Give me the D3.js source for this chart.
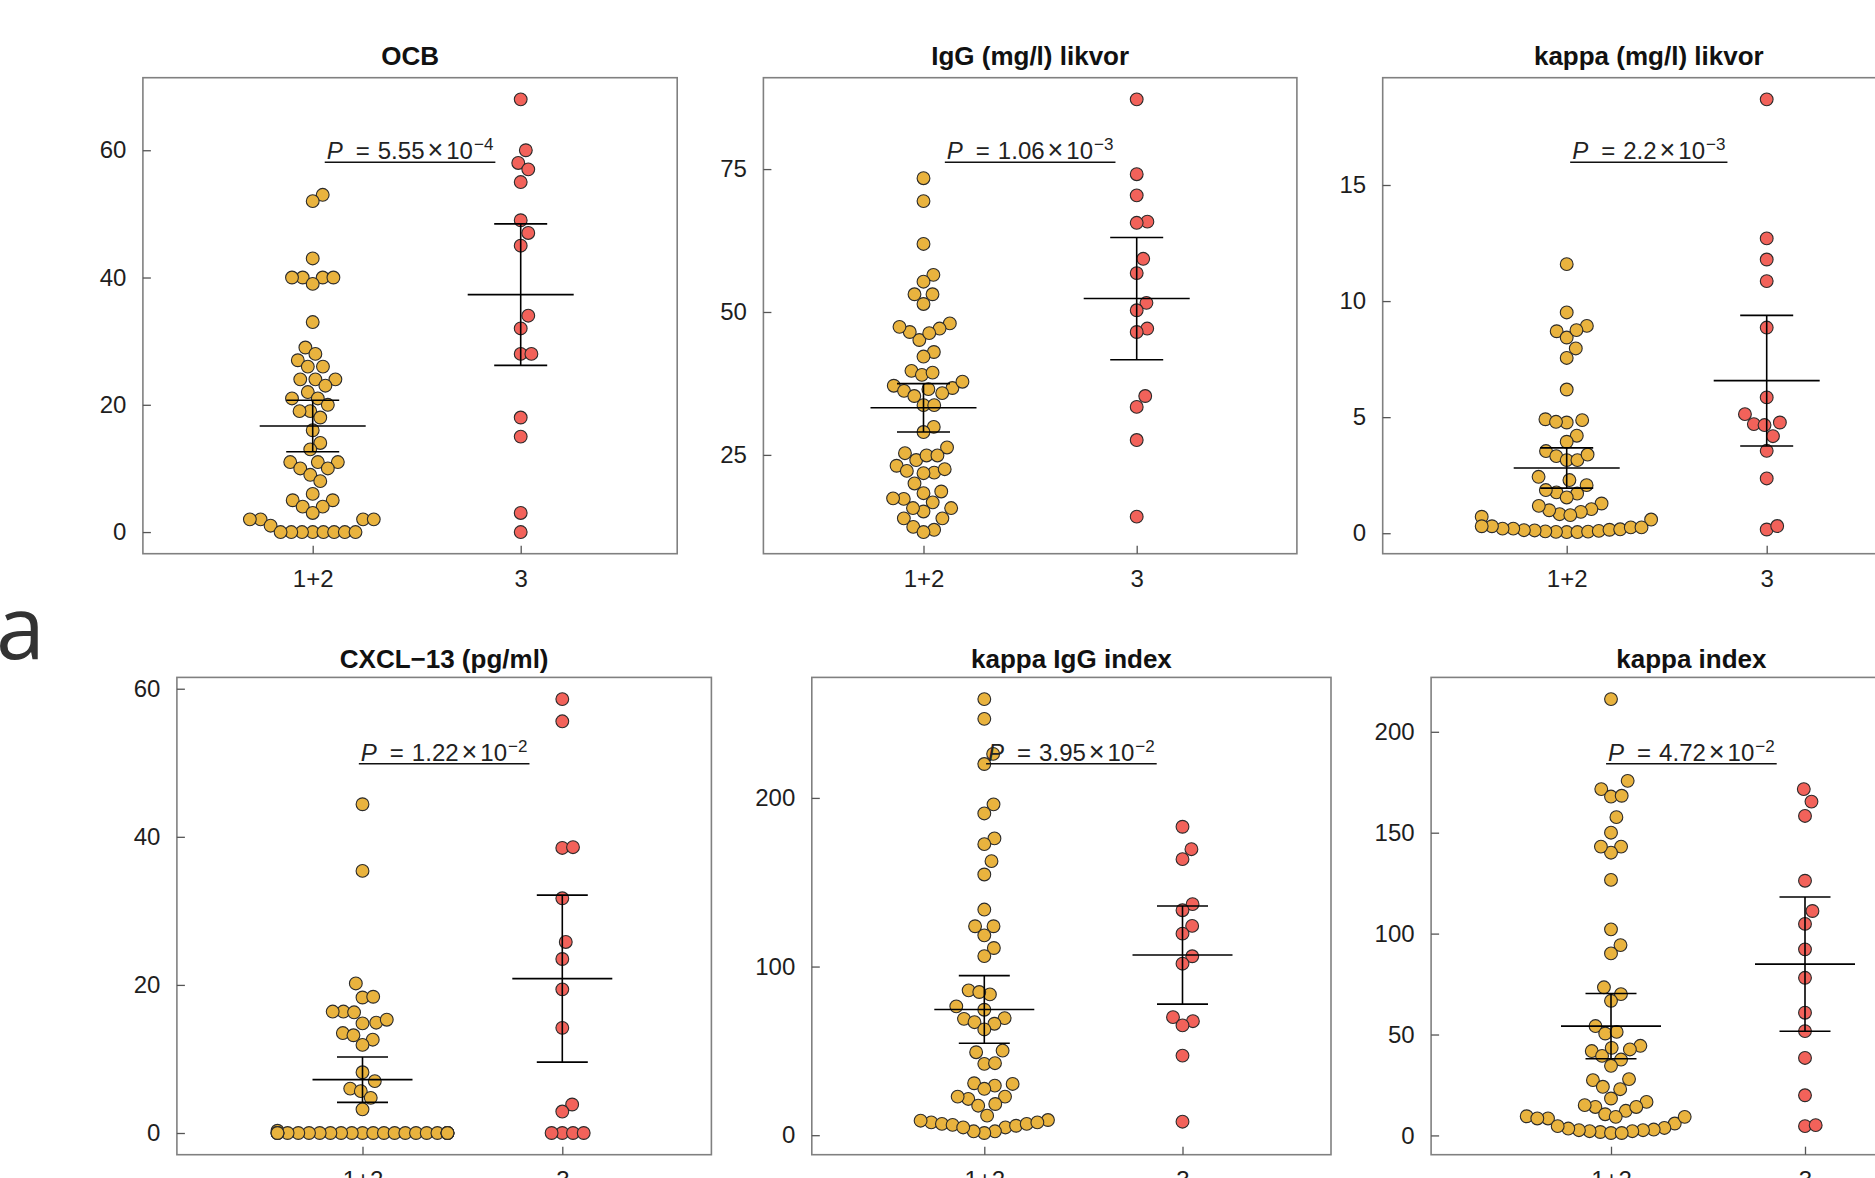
<!DOCTYPE html>
<html>
<head>
<meta charset="utf-8">
<script src="https://cdn.jsdelivr.net/npm/d3@7"></script>
<style>
  html, body { margin: 0; padding: 0; background: #ffffff; }
  svg { display: block; }
</style>
</head>
<body>
<script>
// ---------------- DATA ----------------
const groups = ["1+2", "3"];
const panelTitles = ["OCB", "IgG (mg/l) likvor", "kappa (mg/l) likvor",
                     "CXCL\u221213 (pg/ml)", "kappa IgG index", "kappa index"];
const pMantissa = ["5.55", "1.06", "2.2", "1.22", "3.95", "4.72"];
const pExponent = ["\u22124", "\u22123", "\u22123", "\u22122", "\u22122", "\u22122"];
const yTicks = [[0, 20, 40, 60], [25, 50, 75], [0, 5, 10, 15],
                [0, 20, 40, 60], [0, 100, 200], [0, 50, 100, 150, 200]];

const ocbLow = [53,52,43,40,40,40,40,39,33,29,28,27,26,26,24,24,24,23,22,21,21,20,19,19,18,16,14,13,
                11,11,11,10,10,9,8,6,5,5,4,4,3,2,2,2,2,1,0,0,0,0,0,0,0,0];
const ocbHigh = [68,60,58,57,55,49,47,45,34,32,28,28,18,15,3,0];

const iggLow = [73.4,69.4,61.9,56.5,55.3,53.1,53.1,51.4,48.0,47.1,45.1,46.3,46.5,47.4,43.0,42.2,
                39.7,39.0,39.4,37.1,36.2,35.3,36.7,35.8,36.5,37.8,33.7,33.7,29.9,29.0,26.3,24.1,
                25.3,24.9,24.9,23.1,22.2,21.9,21.8,22.5,20.0,18.3,16.7,17.3,18.6,17.4,15.1,15.7,
                15.7,13.9,13.9,12.4,11.9,11.5];
const iggHigh = [87.2,74.1,70.4,65.8,65.6,59.3,56.8,51.6,50.3,47.1,46.5,35.3,33.4,27.6,14.2];

const kappaLow = [11.59,9.51,8.93,8.70,8.43,8.75,7.96,7.55,6.19,4.91,4.77,4.80,4.87,4.20,3.94,
                  3.54,3.32,3.15,3.15,3.39,2.43,2.07,1.76,1.86,2.29,1.71,1.28,1.04,0.92,0.82,
                  0.99,1.18,1.54,0.59,0.78,0.71,0.05,0.05,0.06,0.07,0.08,0.10,0.12,0.13,0.15,
                  0.17,0.20,0.20,0.25,0.25,0.30,0.30];
const kappaHigh = [18.69,12.70,11.79,10.86,8.86,5.85,5.13,4.70,4.66,4.77,4.18,3.55,2.36,0.16,0.31];

const cxclLow = [44.4,35.4,20.2,18.3,18.4,16.4,16.4,16.3,14.8,14.9,15.3,13.5,13.2,12.6,11.9,
                 8.2,7.0,6.0,5.65,4.75,3.2,0.3,
                 0,0,0,0,0,0,0,0,0,0,0,0,0,0,0,0,0,0,0,0,0,0];
const cxclHigh = [58.6,55.6,38.5,38.6,31.7,25.8,23.5,19.4,14.2,3.85,2.9,0,0,0,0];

const kigLow = [258.6,246.9,226.1,220.1,196.2,190.8,176.0,172.6,162.5,154.6,133.8,123.9,123.9,
                118.5,111.0,106.2,85.9,83.5,84.9,76.4,74.4,69.0,67.0,69.4,66.1,62.7,49.2,50.2,
                42.3,42.7,29.4,30.4,30.8,27.5,22.9,21.5,17.5,18.5,22.9,11.6,9.0,7.6,6.7,6.1,
                4.6,2.3,1.3,2.3,4.6,5.6,6.7,7.6,8.6];
const kigHigh = [182.9,169.6,163.7,137.0,133.4,124.1,119.5,106.1,101.7,70.0,67.6,65.1,47.2,8.0];

const kidxLow = [216.2,175.7,171.6,167.9,168.3,157.7,150.0,143.1,140.1,143.1,126.6,102.1,94.3,
                 90.2,73.4,70.0,66.7,54.2,50.5,51.3,44.4,41.8,39.4,37.6,42.6,43.4,34.5,27.4,
                 27.9,24.1,22.9,16.6,14.1,12.2,10.5,14.1,15.0,18.3,9.5,8.4,5.9,3.7,2.9,2.6,
                 2.1,1.7,1.2,1.2,2.1,2.6,3.4,4.6,8.4,9.2,9.2];
const kidxHigh = [171.6,165.4,158.3,126.2,111.2,104.8,92.2,78.1,60.8,51.7,38.4,19.9,4.6,5.1];

const panelSeries = [[ocbLow, ocbHigh], [iggLow, iggHigh], [kappaLow, kappaHigh],
                     [cxclLow, cxclHigh], [kigLow, kigHigh], [kidxLow, kidxHigh]];

// ---------------- LAYOUT ----------------
const W = 1875, H = 1178;
const layout = [
  {L: 142.9,  R: 677.2,  T: 77.7,  B: 553.7,  cx: [312.7, 520.7],  titleY: 65,    pY: 159, cap: [53, 26.5]},
  {L: 763.4,  R: 1296.9, T: 77.7,  B: 553.7,  cx: [923.5, 1136.7], titleY: 65,    pY: 159, cap: [53, 26.5]},
  {L: 1382.7, R: 1914.9, T: 77.7,  B: 553.7,  cx: [1566.7, 1766.7],titleY: 65,    pY: 159, cap: [53, 26.5]},
  {L: 176.9,  R: 711.4,  T: 677.4, B: 1154.7, cx: [362.5, 562.3],  titleY: 667.5, pY: 760.5, cap: [50, 25.5]},
  {L: 811.8,  R: 1331.0, T: 677.4, B: 1154.7, cx: [984.3, 1182.5], titleY: 667.5, pY: 760.5, cap: [50, 25.5]},
  {L: 1431.1, R: 1951.7, T: 677.4, B: 1154.7, cx: [1611, 1805],    titleY: 667.5, pY: 760.5, cap: [50, 25.5]}
];
const colors = ["#E9B33E", "#F2625A"];
const FONT = "'Liberation Sans', Arial, Helvetica, sans-serif";
const XS = 10.7, YS = 18, CORRAL = 85, R_PT = 6.4;

// t quantile (0.975) via Cornish-Fisher expansion
function t975(df) {
  const z = 1.959964, z3 = z*z*z, z5 = z3*z*z, z7 = z5*z*z;
  return z + (z3 + z) / (4*df) + (5*z5 + 16*z3 + 3*z) / (96*df*df)
           + (3*z7 + 19*z5 + 17*z3 - 15*z) / (384*df*df*df);
}

// beeswarm "swarm" layout, ascending priority, gutter corral
function swarm(py, vals) {
  const n = py.length;
  const order = d3.range(n).sort((a, b) => (vals[a] - vals[b]) || (a - b));
  const placed = [];
  const off = new Array(n);
  for (const i of order) {
    const y = py[i];
    const nb = placed.filter(p => Math.abs(p.y - y) < YS);
    const cand = [0];
    for (const p of nb) {
      const w = XS * Math.sqrt(Math.max(0, 1 - Math.pow((p.y - y) / YS, 2)));
      cand.push(p.x + w, p.x - w);
    }
    let best = null;
    for (const c of cand) {
      const ok = nb.every(p => Math.pow((c - p.x) / XS, 2) + Math.pow((y - p.y) / YS, 2) >= 1 - 1e-6);
      if (ok && (best === null || Math.abs(c) < Math.abs(best) - 1e-9)) best = c;
    }
    placed.push({x: best, y});
    off[i] = best;
  }
  return off.map(o => Math.max(-CORRAL, Math.min(CORRAL, o)));
}

const svg = d3.select("body").append("svg")
  .attr("width", W).attr("height", H)
  .attr("viewBox", `0 0 ${W} ${H}`);

svg.append("rect").attr("width", W).attr("height", H).attr("fill", "#fff");

panelSeries.forEach((series, i) => {
  const lay = layout[i];
  const all = series.flat();
  const [mn, mx] = d3.extent(all);
  const pad = (mx - mn) * 0.05;
  const y = d3.scaleLinear().domain([mn - pad, mx + pad]).range([lay.B, lay.T]);
  const x = d3.scaleLinear().domain([0, 1]).range(lay.cx);
  const g = svg.append("g");

  // points
  series.forEach((vals, gi) => {
    const py = vals.map(v => y(v));
    const off = swarm(py, vals);
    g.append("g").selectAll("circle").data(vals).join("circle")
      .attr("cx", (d, k) => x(gi) + off[k])
      .attr("cy", (d, k) => py[k])
      .attr("r", R_PT)
      .attr("fill", colors[gi])
      .attr("stroke", "#2b2b2b")
      .attr("stroke-width", 1.1);
  });

  // mean and 95% CI
  series.forEach((vals, gi) => {
    const n = vals.length;
    const m = d3.mean(vals);
    const se = d3.deviation(vals) / Math.sqrt(n);
    const h = t975(n - 1) * se;
    const cxp = x(gi);
    const eg = g.append("g").attr("stroke", "#000").attr("stroke-width", 1.6);
    eg.append("line").attr("x1", cxp).attr("x2", cxp).attr("y1", y(m + h)).attr("y2", y(m - h));
    eg.append("line").attr("x1", cxp - lay.cap[0]).attr("x2", cxp + lay.cap[0]).attr("y1", y(m)).attr("y2", y(m));
    [m + h, m - h].forEach(v => {
      eg.append("line").attr("x1", cxp - lay.cap[1]).attr("x2", cxp + lay.cap[1]).attr("y1", y(v)).attr("y2", y(v));
    });
  });

  // box
  g.append("rect")
    .attr("x", lay.L).attr("y", lay.T)
    .attr("width", lay.R - lay.L).attr("height", lay.B - lay.T)
    .attr("fill", "none").attr("stroke", "#808080").attr("stroke-width", 1.6);

  // y axis
  const ya = g.append("g").attr("transform", `translate(${lay.L},0)`)
    .call(d3.axisLeft(y).tickValues(yTicks[i]).tickSizeInner(-8).tickSizeOuter(0).tickPadding(16.5));
  ya.select(".domain").remove();
  ya.selectAll(".tick line").attr("stroke", "#555").attr("stroke-width", 1.3);
  ya.selectAll(".tick text").attr("fill", "#1e1e1e").style("font-family", FONT).style("font-size", "24px");

  // x axis
  const xa = g.append("g").attr("transform", `translate(0,${lay.B})`)
    .call(d3.axisBottom(x).tickValues([0, 1]).tickFormat(k => groups[k])
      .tickSizeInner(-8).tickSizeOuter(0).tickPadding(16));
  xa.select(".domain").remove();
  xa.selectAll(".tick line").attr("stroke", "#555").attr("stroke-width", 1.3);
  xa.selectAll(".tick text").attr("fill", "#1e1e1e").style("font-family", FONT).style("font-size", "24px");

  // title
  const midX = (lay.L + lay.R) / 2;
  g.append("text")
    .attr("x", midX).attr("y", lay.titleY)
    .attr("text-anchor", "middle")
    .style("font-family", FONT).style("font-size", "26px").style("font-weight", "bold")
    .attr("fill", "#111")
    .text(panelTitles[i]);

  // P value label
  const pt = g.append("text")
    .attr("x", midX).attr("y", lay.pY)
    .attr("text-anchor", "middle")
    .style("font-family", FONT).style("font-size", "24px")
    .attr("fill", "#222");
  pt.append("tspan").style("font-style", "italic").text("P");
  pt.append("tspan").attr("dx", 13).text("=");
  pt.append("tspan").attr("dx", 8).text(pMantissa[i]);
  pt.append("tspan").attr("dx", 3).style("font-size", "27px").text("\u00D7");
  pt.append("tspan").attr("dx", 3).text("10");
  pt.append("tspan").attr("dx", 1).attr("dy", -9).style("font-size", "17px").text(pExponent[i]);
  const bb = pt.node().getBBox();
  g.append("line")
    .attr("x1", bb.x - 2).attr("x2", bb.x + bb.width + 2)
    .attr("y1", lay.pY + 3.3).attr("y2", lay.pY + 3.3)
    .attr("stroke", "#111").attr("stroke-width", 1.5);
});

// panel letter
svg.append("text")
  .attr("x", -4).attr("y", 659)
  .style("font-family", "'Open Sans', 'Noto Sans', sans-serif")
  .style("font-size", "88px")
  .attr("fill", "#333")
  .text("a");
</script>
</body>
</html>
